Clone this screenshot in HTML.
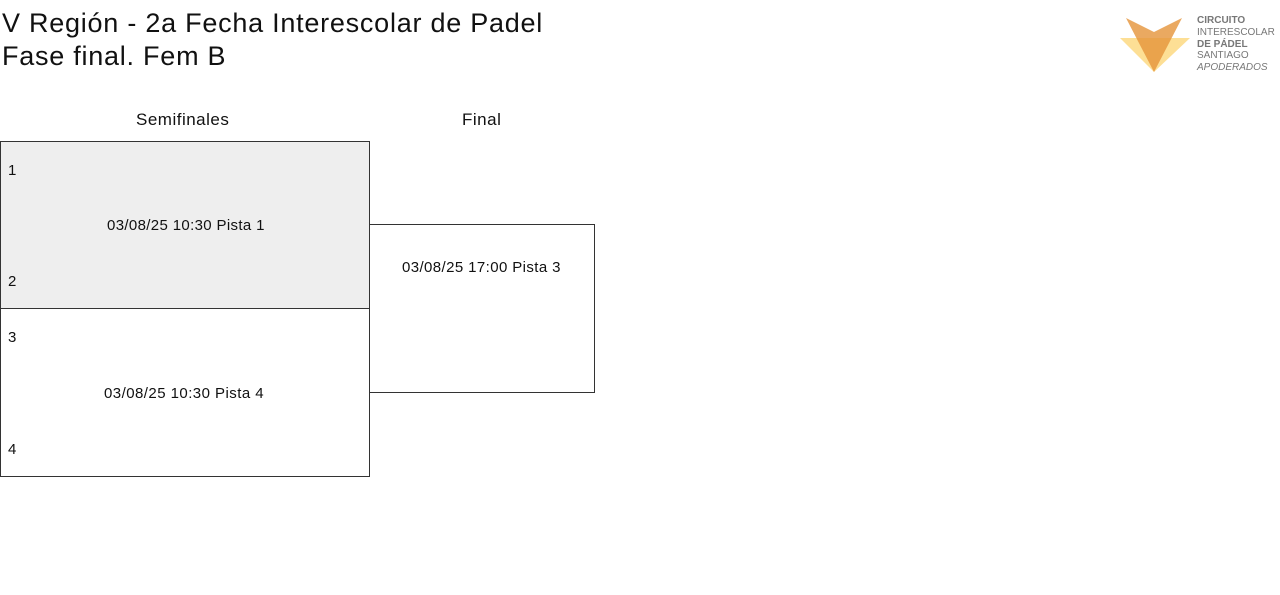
<!DOCTYPE html>
<html><head><meta charset="utf-8"><style>
body{margin:0;width:1280px;height:595px;background:#fff;font-family:"Liberation Sans",sans-serif;color:#111;position:relative;overflow:hidden}
.a{position:absolute;white-space:nowrap}
.box{position:absolute;border:1px solid #333;box-sizing:border-box}
</style></head><body>
<div class="a" style="left:2px;top:7px;font-size:27px;line-height:33px;letter-spacing:0.75px">V Región - 2a Fecha Interescolar de Padel<br>Fase final. Fem B</div>
<div class="a" style="left:136px;top:110px;font-size:17px;letter-spacing:0.5px">Semifinales</div>
<div class="a" style="left:462px;top:110px;font-size:17px;letter-spacing:0.5px">Final</div>
<div class="box" style="left:0;top:141px;width:370px;height:168px;background:#eee"></div>
<div class="box" style="left:0;top:308px;width:370px;height:169px"></div>
<div class="box" style="left:369px;top:224px;width:226px;height:169px"></div>
<div class="a" style="left:8px;top:162px;font-size:15px">1</div>
<div class="a" style="left:107px;top:217px;font-size:15px;letter-spacing:0.35px">03/08/25 10:30 Pista 1</div>
<div class="a" style="left:8px;top:273px;font-size:15px">2</div>
<div class="a" style="left:8px;top:329px;font-size:15px">3</div>
<div class="a" style="left:104px;top:385px;font-size:15px;letter-spacing:0.45px">03/08/25 10:30 Pista 4</div>
<div class="a" style="left:8px;top:441px;font-size:15px">4</div>
<div class="a" style="left:402px;top:259px;font-size:15px;letter-spacing:0.4px">03/08/25 17:00 Pista 3</div>
<svg class="a" style="left:1118px;top:16px" width="74" height="58">
<polygon points="2,22 72,22 36,56" fill="#fcd77a" opacity="0.8"/>
<polygon points="8,2 36,16 64,2 36,56" fill="#e5933a" opacity="0.8"/>
</svg>
<div class="a" style="left:1197px;top:15px;font-size:10px;line-height:11.8px;color:#777">
<b>CIRCUITO</b><br>INTERESCOLAR<br><b>DE PÁDEL</b><br>SANTIAGO<br><i>APODERADOS</i></div>
</body></html>
